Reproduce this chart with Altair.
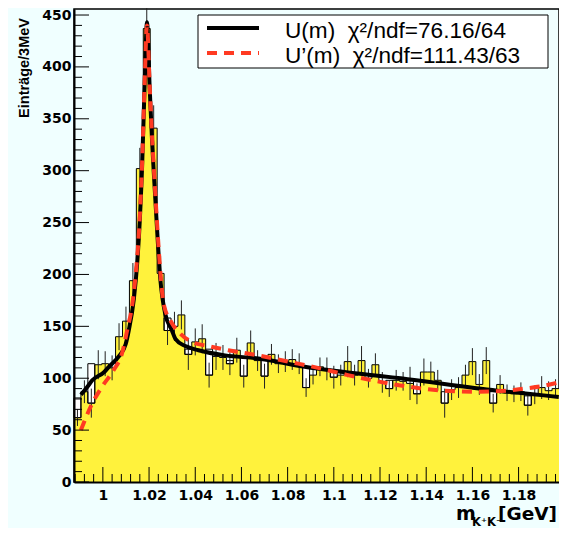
import altair as alt
import pandas as pd

# ---------------- data ----------------
bin_start = 0.9875          # GeV, left edge of first bin
bin_width = 0.003           # 3 MeV bins
counts = [62, 87, 76, 113, 114, 110, 140, 155, 194, 302, 437, 341, 201, 146, 150, 161,
          123, 135, 138, 103, 121, 120, 114, 127, 102, 134, 117, 102, 123, 114, 116, 118,
          114, 91, 103, 111, 109, 101, 103, 116, 103, 117, 100, 113, 96, 90, 98, 97,
          95, 85, 106, 106, 98, 76, 89, 91, 103, 116, 94, 117, 76, 94, 86, 85, 87, 74,
          84, 91, 88, 90]
errors = [8, 11, 14, 14, 12, 12, 13, 14, 17, 20, 30, 22, 17, 14, 14, 14,
          15, 13, 14, 12, 13, 12, 11, 12, 11, 12, 10, 12, 10, 9, 10, 10,
          10, 9, 9, 9, 11, 11, 10, 15, 10, 14, 9, 11, 10, 8, 10, 9,
          16, 10, 13, 10, 10, 14, 10, 10, 10, 13, 10, 13, 9, 9, 8, 8, 9, 10,
          9, 11, 9, 9]
# bins where the open (white) histogram sticks out above the filled one
outline_bins = [0, 2, 13, 16, 19, 22, 24, 27, 33, 37, 45, 49, 53, 60, 65]
outline_tops = [81, 114, 158, 128, 128, 117, 120, 117, 111, 106, 98, 97, 87, 87, 83]

# fit U(m)
fit_u_x = [0.9905, 0.9934, 0.9954, 1.0006, 1.0026, 1.0069, 1.0099, 1.0112, 1.0134, 1.0150,
           1.0156, 1.0170, 1.0181, 1.0191, 1.0203, 1.0213, 1.0220, 1.0234, 1.0249, 1.0270,
           1.0299, 1.0314, 1.0357, 1.0414, 1.0529, 1.0673, 1.0874, 1.1320, 1.1708, 1.1974]
fit_u_y = [84, 92, 98, 106, 111, 121, 133, 146, 176, 215,
           236, 305, 384, 443, 378, 329, 300, 246, 195, 162,
           146, 138, 131, 127, 122, 119, 111, 99, 88, 82]
# fit U'(m)
fit_v_x = [0.9905, 0.9948, 0.9997, 1.0047, 1.0083, 1.0106, 1.0128, 1.0142, 1.0156, 1.0170,
           1.0181, 1.0191, 1.0203, 1.0213, 1.0220, 1.0234, 1.0249, 1.0263, 1.0299, 1.0335,
           1.0385, 1.0457, 1.0543, 1.0673, 1.0802, 1.0931, 1.1061, 1.1190, 1.1289, 1.1479,
           1.1621, 1.1751, 1.1824, 1.1893, 1.1974]
fit_v_y = [50, 73, 92, 108, 124, 147, 172, 200, 240, 308,
           385, 440, 380, 332, 305, 252, 202, 172, 153, 143,
           135, 131, 127, 122, 116, 110, 103, 97, 93, 88,
           87, 88, 90, 92, 96]

x_labels = [1.00, 1.02, 1.04, 1.06, 1.08, 1.10, 1.12, 1.14, 1.16, 1.18]
y_labels = [0, 50, 100, 150, 200, 250, 300, 350, 400, 450]
x_minor = [round(0.988 + 0.004 * k, 3) for k in range(53) if k % 5 != 3]
y_minor = [v for v in range(10, 451, 10) if v % 50 != 0]

legend_u = "U(m) \u00a0\u03c7\u00b2/ndf=76.16/64"
legend_v = "U\u2019(m) \u00a0\u03c7\u00b2/ndf=111.43/63"

# ---------------- tables ----------------
n = len(counts)
lo = [bin_start + bin_width * i for i in range(n)]
hi = [bin_start + bin_width * (i + 1) for i in range(n)]
hist = pd.DataFrame({
    "lo": lo, "hi": hi,
    "c": [(a + b) / 2 for a, b in zip(lo, hi)],
    "y": counts,
    "ylo": [v - e for v, e in zip(counts, errors)],
    "yhi": [v + e for v, e in zip(counts, errors)],
})
step = pd.DataFrame({"x": lo + [hi[-1]], "y": counts + [counts[-1]]})
boxes = pd.DataFrame({
    "lo": [lo[i] for i in outline_bins], "hi": [hi[i] for i in outline_bins],
    "yb": [counts[i] for i in outline_bins], "yt": outline_tops,
})
fu = pd.DataFrame({"x": fit_u_x, "y": fit_u_y})
fv = pd.DataFrame({"x": fit_v_x, "y": fit_v_y})

W, H = 485, 473
xs = alt.Scale(domain=[0.9875, 1.1975], nice=False, zero=False)
ys = alt.Scale(domain=[0, 455.8], nice=False, zero=False)

x_axis = alt.Axis(values=x_labels, format=".2~f", title=None, ticks=False, grid=False,
                  labelFont="DejaVu Sans", labelFontWeight="bold", labelFontSize=14,
                  labelColor="black", labelPadding=6, domainColor="black",
                  domainWidth=2, zindex=1, labelFlush=False)
y_axis = alt.Axis(values=y_labels, format="d", title=None, ticks=False, grid=False,
                  labelFont="DejaVu Sans", labelFontWeight="bold", labelFontSize=14,
                  labelColor="black", labelPadding=3, domainColor="black",
                  domainWidth=2, zindex=1, labelFlush=False)


def X(field):
    return alt.X(field, scale=xs, axis=x_axis)


def Y(field):
    return alt.Y(field, scale=ys, axis=y_axis)


yellow = alt.Chart(step).mark_area(interpolate="step-after", color="#FFF23C").encode(
    x=X("x:Q"), y=Y("y:Q"))
outline = alt.Chart(step).mark_line(interpolate="step-after", color="black", strokeWidth=1).encode(
    x=X("x:Q"), y=Y("y:Q"))
white = alt.Chart(boxes).mark_rect(fill="white", stroke="black", strokeWidth=1).encode(
    x=X("lo:Q"), x2="hi:Q", y=Y("yb:Q"), y2="yt:Q")
errs = alt.Chart(hist).mark_rule(color="#222222", strokeWidth=1).encode(
    x=X("c:Q"), y=Y("ylo:Q"), y2="yhi:Q")
line_u = alt.Chart(fu).mark_line(color="black", strokeWidth=4, interpolate="monotone").encode(
    x=X("x:Q"), y=Y("y:Q"))
line_v = alt.Chart(fv).mark_line(color="#FF3A22", strokeWidth=4, strokeDash=[10, 7],
                                 interpolate="monotone").encode(x=X("x:Q"), y=Y("y:Q"))


def ticks_x(vals, length):
    return alt.Chart(pd.DataFrame({"x": vals})).mark_rule(color="black", strokeWidth=1).encode(
        x=X("x:Q"), y=alt.value(H), y2=alt.value(H - length))


def ticks_y(vals, length):
    return alt.Chart(pd.DataFrame({"y": vals})).mark_rule(color="black", strokeWidth=1).encode(
        y=Y("y:Q"), x=alt.value(0), x2=alt.value(length))


one = pd.DataFrame({"a": [0]})
leg_box = alt.Chart(one).mark_rect(fill="white", stroke="black", strokeWidth=1).encode(
    x=alt.value(124), x2=alt.value(474), y=alt.value(6), y2=alt.value(59))
leg_l1 = alt.Chart(one).mark_rule(color="black", strokeWidth=4).encode(
    x=alt.value(133), x2=alt.value(185), y=alt.value(19))
leg_l2 = alt.Chart(one).mark_rule(color="#FF3A22", strokeWidth=4, strokeDash=[10, 7]).encode(
    x=alt.value(133), x2=alt.value(185), y=alt.value(44))
txt = dict(font="Liberation Sans", fontSize=22.6, align="left", baseline="alphabetic", color="black")
leg_t1 = alt.Chart(one).mark_text(text=legend_u, **txt).encode(x=alt.value(211), y=alt.value(29))
leg_t2 = alt.Chart(one).mark_text(text=legend_v, **txt).encode(x=alt.value(211), y=alt.value(54))

bold = dict(font="DejaVu Sans", fontWeight="bold", color="black", baseline="alphabetic")
xt_m = alt.Chart(one).mark_text(text="m", fontSize=19, align="left", **bold).encode(
    x=alt.value(382), y=alt.value(511))
xt_sub = alt.Chart(one).mark_text(text="K\u207aK\u207b", fontSize=11.5, align="left", **bold).encode(
    x=alt.value(398), y=alt.value(517))
xt_gev = alt.Chart(one).mark_text(text="[GeV]", fontSize=18.5, align="right", **bold).encode(
    x=alt.value(483), y=alt.value(511))
yt = alt.Chart(one).mark_text(text="Eintr\u00e4ge/3MeV", font="Liberation Sans", fontWeight="bold",
                              fontSize=14.5, angle=270, align="right", baseline="middle",
                              color="black").encode(x=alt.value(-49), y=alt.value(9))

chart = alt.layer(
    yellow, white, outline, errs, line_u, line_v,
    ticks_x(x_labels, 15), ticks_x(x_minor, 8), ticks_y(y_labels, 15), ticks_y(y_minor, 8),
    leg_box, leg_l1, leg_l2, leg_t1, leg_t2, xt_m, xt_sub, xt_gev, yt,
).properties(
    width=W, height=H,
    padding={"left": 66, "top": 1, "right": 0, "bottom": 46},
    autosize=alt.AutoSizeParams(type="none"),
    background="#F0FFFF",
).configure_view(stroke="black", strokeWidth=1.5)

chart.save("out.html", embed_options={"renderer": "svg", "actions": False})
